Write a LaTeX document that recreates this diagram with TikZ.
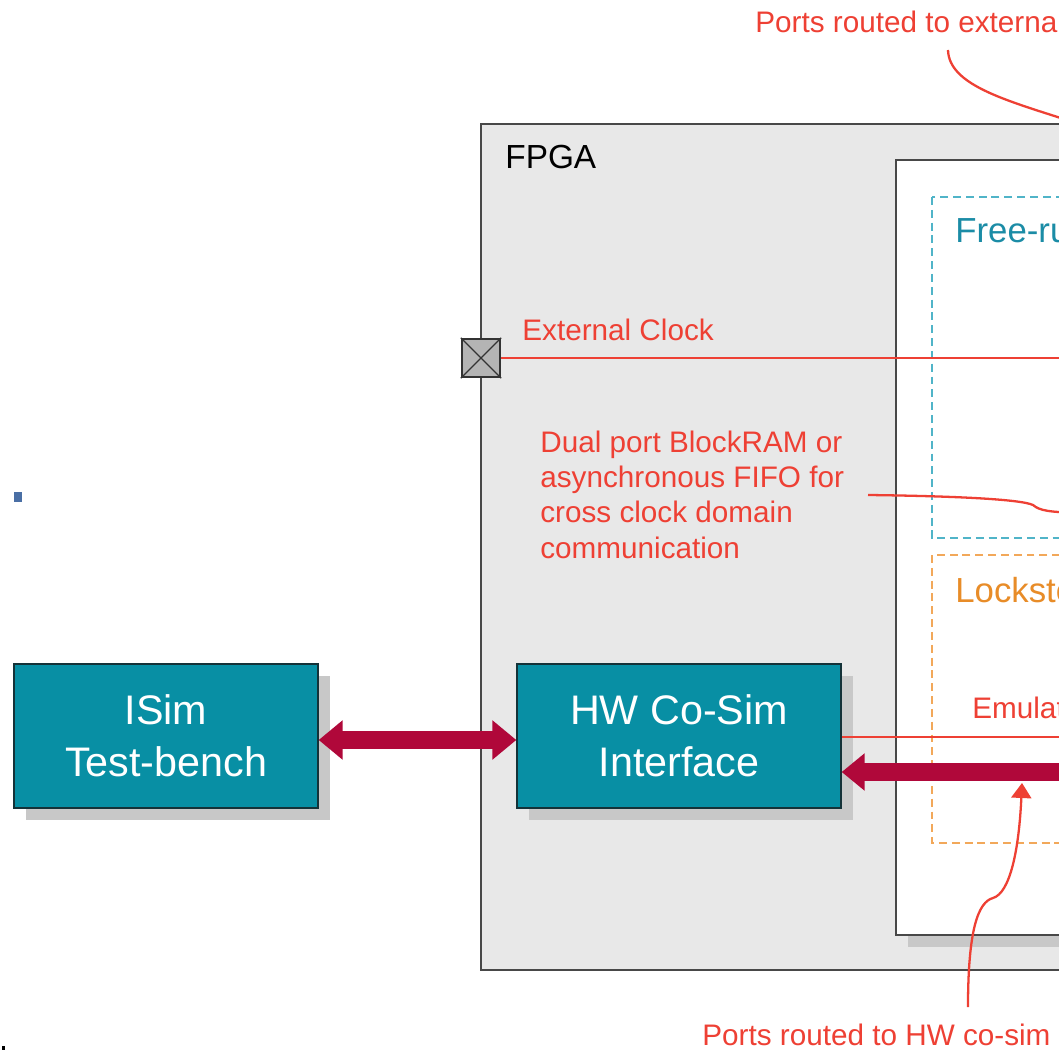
\documentclass[tikz,border=0pt]{standalone}
\usepackage{fontspec}
\setmainfont{Liberation Sans}
\usetikzlibrary{arrows.meta}
\definecolor{fpgabg}{RGB}{232,232,232}
\definecolor{frame}{RGB}{72,72,72}
\definecolor{shadowgray}{RGB}{200,200,200}
\definecolor{teal}{RGB}{8,143,164}
\definecolor{tealdark}{RGB}{20,50,56}
\definecolor{cyandash}{RGB}{80,180,200}
\definecolor{tealtext}{RGB}{27,140,166}
\definecolor{orangedash}{RGB}{242,168,90}
\definecolor{orangetext}{RGB}{232,140,40}
\definecolor{annot}{RGB}{238,64,52}
\definecolor{crimson}{RGB}{176,8,58}
\definecolor{portgray}{RGB}{180,180,180}
\definecolor{dotblue}{RGB}{74,111,165}
\tikzset{
  blockbox/.style={draw=tealdark, line width=0.8pt, fill=teal, text=white, align=center,
    minimum height=2.88cm, inner sep=0pt, font=\fontsize{23.5}{29.5}\selectfont},
  annottext/.style={anchor=base west, inner sep=0pt, text=annot, align=left,
    font=\fontsize{16.9}{20.1}\selectfont},
  annotline/.style={draw=annot, line width=1.3pt},
  bigarrow/.style={draw=crimson, line width=0.35cm},
  portbox/.style={draw=black!80, fill=portgray, line width=1.3pt, minimum size=0.76cm, inner sep=0pt},
  dashcyan/.style={draw=cyandash, line width=1.3pt, dash pattern=on 4.5pt off 2.8pt},
  dashorange/.style={draw=orangedash, line width=1.3pt, dash pattern=on 4.5pt off 2.8pt}
}
\begin{document}
\begin{tikzpicture}[x=0.02cm, y=-0.02cm]
\path[use as bounding box] (0,0) rectangle (1059,1051);
\clip (0,0) rectangle (1059,1051);
\fill[white] (0,0) rectangle (1059,1051);
% FPGA outer box
\draw[frame, fill=fpgabg, line width=1.6pt] (481,124) rectangle (1080,970);
\node[anchor=base west, inner sep=0pt, font=\fontsize{19}{22}\selectfont] (fpga) at (505,169) {FPGA};
% inner white box with shadow
\fill[shadowgray] (908,935) rectangle (1080,947);
\draw[frame, fill=white, line width=1.4pt] (896,160) rectangle (1080,935);
% dashed regions
\draw[dashcyan] (932,197) rectangle (1080,538);
\node[anchor=base west, inner sep=0pt, text=tealtext, font=\fontsize{19.8}{23}\selectfont] (free) at (955,242) {Free-running};
\draw[dashorange] (932,555) rectangle (1080,843);
\node[anchor=base west, inner sep=0pt, text=orangetext, font=\fontsize{19.8}{23}\selectfont] (lock) at (955,602) {Lockstep};
% external clock port
\node[portbox] (clk) at (481,358) {};
\draw[black!80, line width=0.8pt] (clk.north west) -- (clk.south east) (clk.north east) -- (clk.south west);
\coordinate (clkend) at (1080,358);
\draw[annotline] (clk.east) -- (clkend);
\node[annottext] (clktext) at (522,340) {External Clock};
% dual port annotation (base = last line)
\node[annottext] (dual) at (540,558) {Dual port BlockRAM or\\asynchronous FIFO for\\cross clock domain\\communication};
\coordinate (dualstart) at (868,495);
\coordinate (dualend) at (1080,513);
\draw[annotline] (dualstart) .. controls (950,496) and (1020,499) .. (1033,505) .. controls (1040,511) and (1050,512) .. (dualend);
% top annotation
\node[annottext] (toptext) at (755,33) {Ports routed to external};
\coordinate (topstart) at (948,50);
\coordinate (topend) at (1070,121);
\draw[annotline] (topstart) .. controls (949,85) and (1005,100) .. (topend);
% shadows of blocks
\fill[shadowgray] (26,676) rectangle (330,820);
\fill[shadowgray] (529,676) rectangle (853,820);
% blocks
\node[blockbox, minimum width=6.08cm] (isim) at (166,736) {ISim\\Test-bench};
\node[blockbox, minimum width=6.48cm] (hw) at (679,736) {HW Co-Sim\\Interface};
% big arrows
\draw[bigarrow, {Triangle[width=0.76cm, length=0.48cm]}-{Triangle[width=0.76cm, length=0.48cm]}] ([yshift=-0.08cm]isim.east) -- ([yshift=-0.08cm]hw.west);
\coordinate (rin) at (1080,772);
\draw[bigarrow, -{Triangle[width=0.72cm, length=0.46cm]}] (rin) -- (rin -| hw.east);
% emulated line
\coordinate (emend) at (1080,737);
\draw[annotline] (hw.east |- emend) -- (emend);
\node[annottext] (emtext) at (972,718) {Emulated};
% bottom annotation
\node[annottext] (bottext) at (702,1045) {Ports routed to HW co-sim};
\coordinate (botstart) at (968,1007);
\coordinate (bottip) at (1022,783);
\draw[annotline, -{Triangle[width=0.4cm, length=0.3cm]}] (botstart) .. controls (968,930) and (978,902) .. (993,898) .. controls (1010,893) and (1019,850) .. (bottip);
% stray marks
\fill[dotblue] (14,492) rectangle (22,502);
\fill[black] (2,1046) rectangle (5,1050);
\end{tikzpicture}
\end{document}
